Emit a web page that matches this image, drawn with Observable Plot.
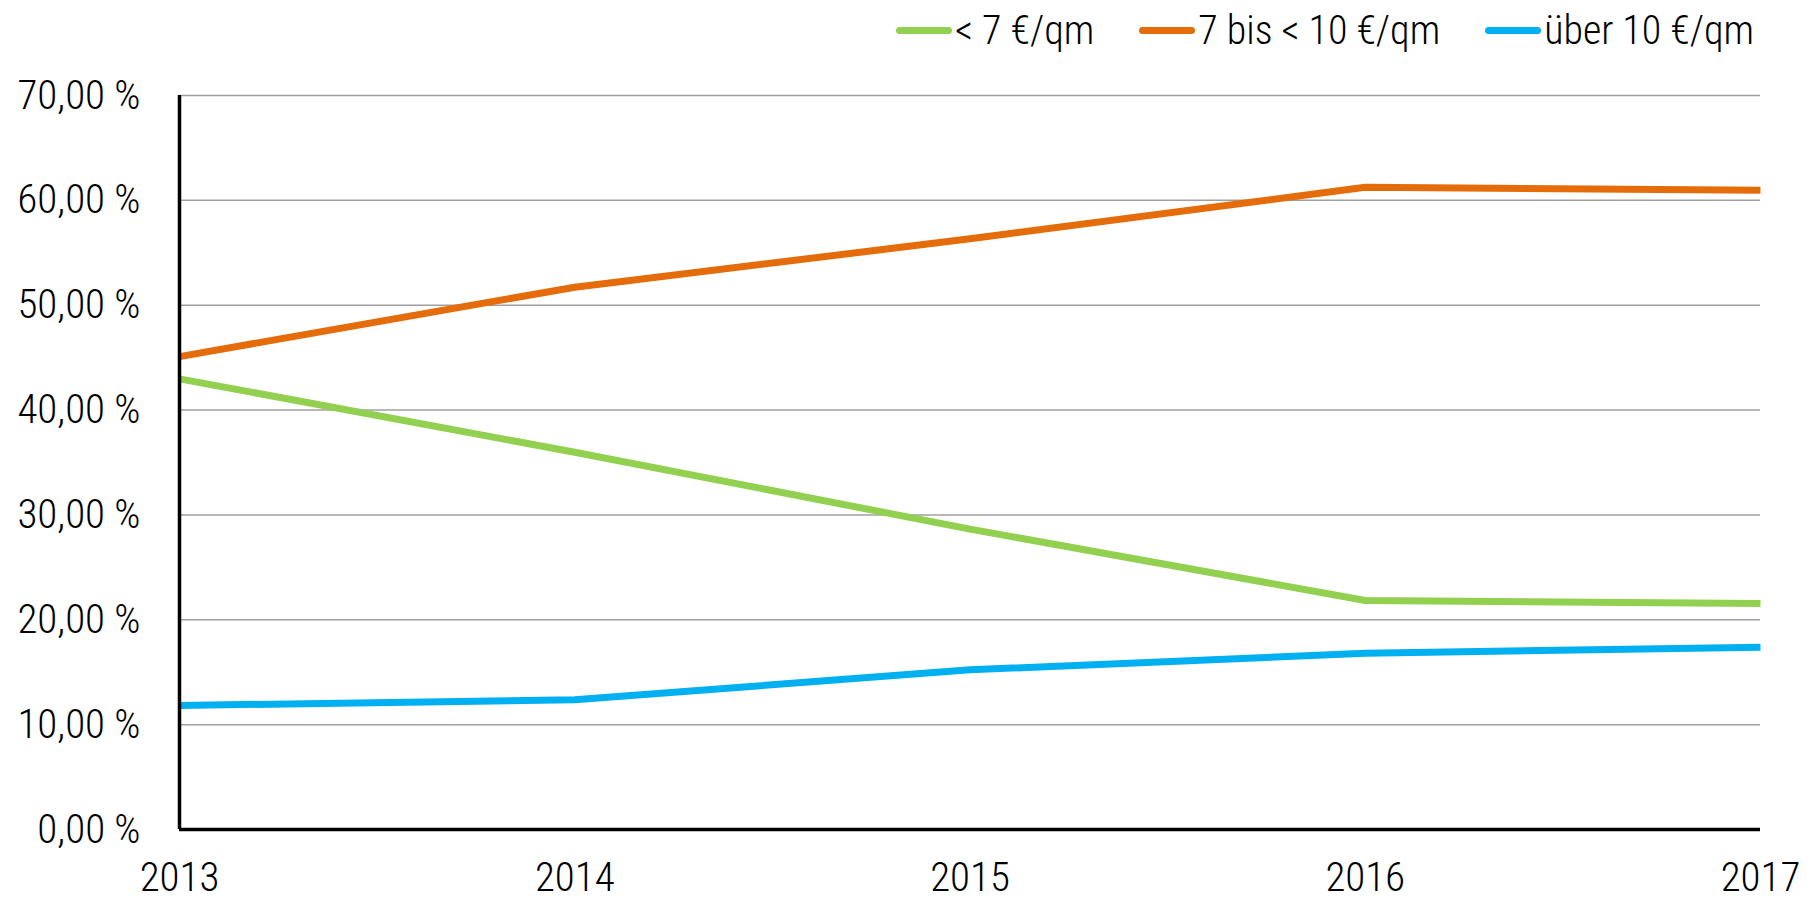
<!DOCTYPE html>
<html>
<head>
<meta charset="utf-8">
<script src="https://cdn.jsdelivr.net/npm/d3@7"></script>
<script src="https://cdn.jsdelivr.net/npm/@observablehq/plot@0.6"></script>
<style>
  html, body { margin: 0; padding: 0; background: #fff; }
  body { font-family: "Liberation Sans Narrow", "Arial Narrow", "Roboto Condensed", "DejaVu Sans Condensed", sans-serif; font-stretch: condensed; font-weight: 300; }
  #legend { height: 60px; display: flex; justify-content: flex-end; align-items: center; padding-right: 64px; box-sizing: border-box; width: 1818px; }
  .item { display: flex; align-items: center; margin-left: 45px; font-size: 40px; color: #000; }
  .sw { width: 56px; height: 7px; border-radius: 4px; margin-right: 3px; }
  #chart svg { display: block; overflow: visible; }
</style>
</head>
<body>
<div id="legend"></div>
<div id="chart"></div>
<script>
const years = [2013, 2014, 2015, 2016, 2017];
const seriesNames = ["< 7 €/qm", "7 bis < 10 €/qm", "über 10 €/qm"];
const seriesColors = ["#92d050", "#e46c0a", "#00b0f0"];
const under7 = [42.98, 35.98, 28.65, 21.84, 21.55];
const from7to10 = [45.1, 51.72, 56.33, 61.25, 60.97];
const over10 = [11.83, 12.37, 15.23, 16.8, 17.39];
const yTicks = [0, 10, 20, 30, 40, 50, 60, 70];

const seriesValues = [under7, from7to10, over10];
const rows = [];
seriesNames.forEach((name, i) => {
  years.forEach((yr, j) => rows.push({series: name, year: yr, value: seriesValues[i][j]}));
});

// legend
const legend = document.getElementById("legend");
seriesNames.forEach((name, i) => {
  const it = document.createElement("div");
  it.className = "item";
  const sw = document.createElement("span");
  sw.className = "sw";
  sw.style.background = seriesColors[i];
  const tx = document.createElement("span");
  tx.textContent = name;
  it.appendChild(sw); it.appendChild(tx);
  legend.appendChild(it);
});

const fmt = d => d.toFixed(2).replace(".", ",") + " %";

const chart = Plot.plot({
  width: 1818,
  height: 838,
  marginLeft: 179,
  marginRight: 58,
  marginTop: 35,
  marginBottom: 69,
  style: {fontFamily: '"Liberation Sans Narrow", "Arial Narrow", "Roboto Condensed", "DejaVu Sans Condensed", sans-serif', fontSize: "41px", fontWeight: 300, color: "#000", background: "#fff", overflow: "visible"},
  x: {domain: [2013, 2017]},
  y: {domain: [0, 70]},
  color: {domain: seriesNames, range: seriesColors},
  marks: [
    Plot.gridY(yTicks.filter(d => d > 0), {stroke: "#a0a0a0", strokeOpacity: 1, strokeWidth: 1.5}),
    Plot.axisY(yTicks, {tickSize: 0, tickPadding: 39, tickFormat: fmt, label: null, fill: "#000"}),
    Plot.axisX(years, {tickSize: 0, tickPadding: 32, tickFormat: d => String(d), label: null, fill: "#000"}),
    Plot.line(rows, {x: "year", y: "value", stroke: "series", strokeWidth: 7, strokeLinejoin: "round", strokeLinecap: "butt"}),
    Plot.ruleX([2013], {stroke: "#000", strokeWidth: 3.5}),
    Plot.ruleY([0], {stroke: "#000", strokeWidth: 3.5})
  ]
});
document.getElementById("chart").appendChild(chart);
</script>
</body>
</html>
